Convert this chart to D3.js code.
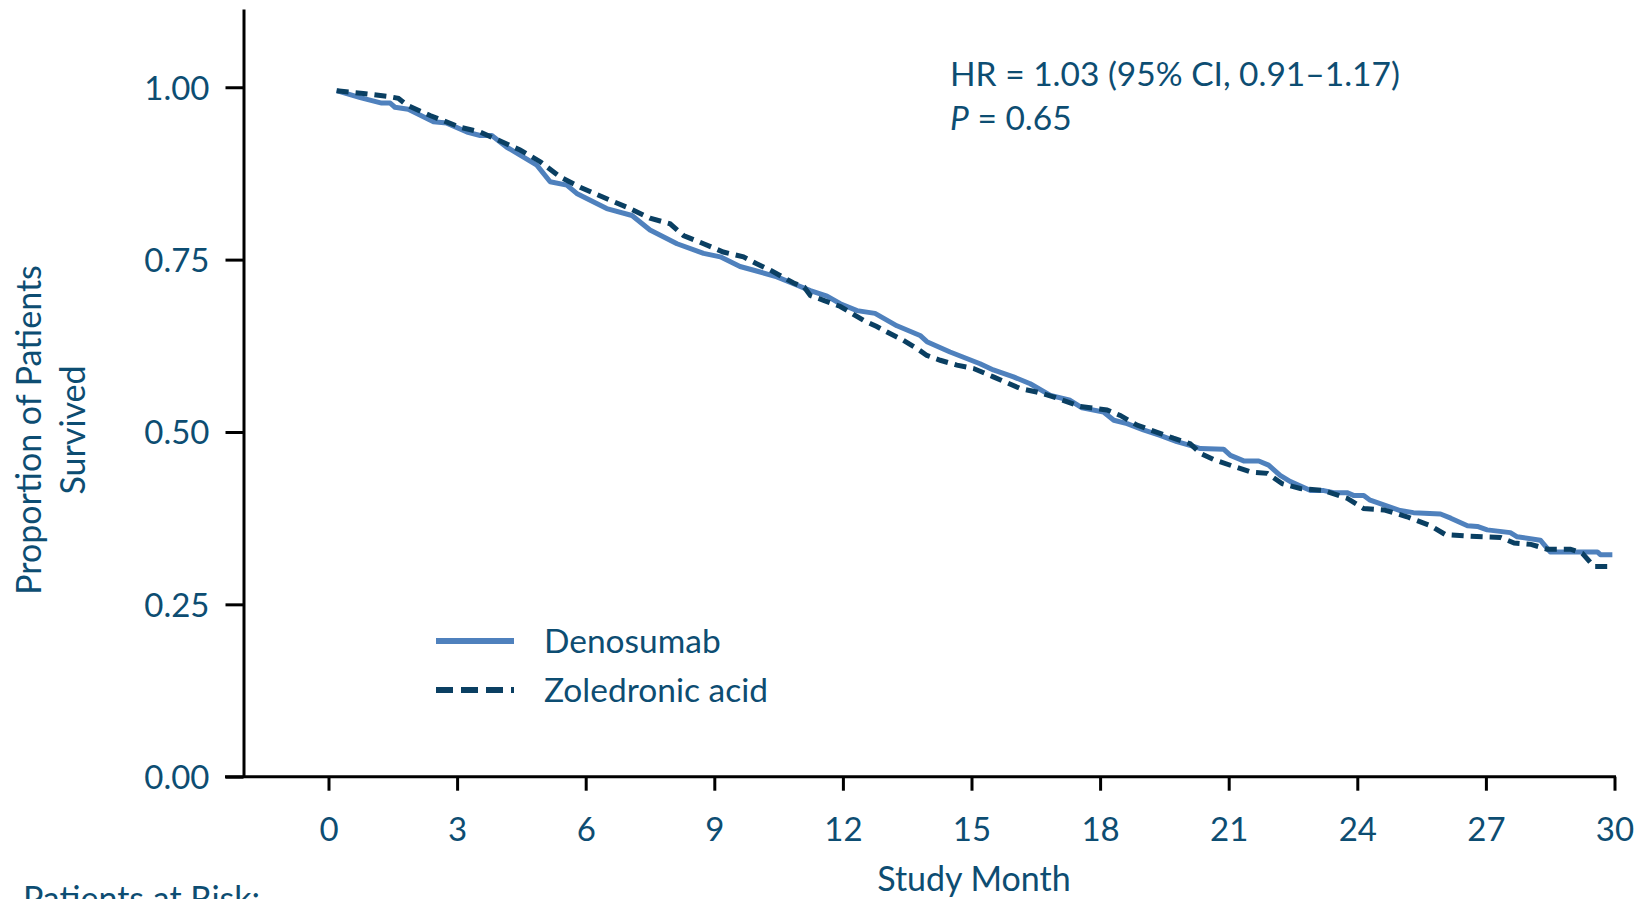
<!DOCTYPE html>
<html>
<head>
<meta charset="utf-8">
<script src="https://cdn.jsdelivr.net/npm/d3@7"></script>
<style>
  html, body { margin: 0; padding: 0; background: #fff; overflow: hidden; }
  svg { display: block; }
  text { font-family: Lato, "Open Sans", sans-serif; fill: #0d4d72; }
</style>
</head>
<body>
<svg id="chart" width="1646" height="899"></svg>
<script>
// Kaplan–Meier overall survival, [study month, proportion surviving]
const denosumab = [
  [0.19,0.995],[0.74,0.985],[1.24,0.977],[1.44,0.977],[1.55,0.971],[1.86,0.968],
  [2.45,0.950],[2.76,0.948],[3.23,0.935],[3.54,0.930],[3.81,0.930],[4.16,0.913],
  [4.86,0.887],[5.17,0.863],[5.56,0.858],[5.79,0.846],[6.49,0.824],[7.08,0.814],
  [7.50,0.793],[8.13,0.773],[8.75,0.759],[9.14,0.754],[9.60,0.740],[10.07,0.732],
  [10.46,0.725],[10.85,0.715],[11.24,0.705],[11.63,0.697],[11.94,0.686],[12.33,0.676],
  [12.75,0.672],[13.26,0.654],[13.80,0.640],[13.96,0.631],[14.50,0.616],[15.20,0.599],
  [15.51,0.590],[15.98,0.580],[16.37,0.570],[16.84,0.553],[17.30,0.546],[17.58,0.535],
  [18.08,0.529],[18.32,0.517],[18.63,0.512],[19.01,0.503],[19.40,0.495],[19.79,0.486],
  [20.18,0.479],[20.34,0.476],[20.88,0.475],[21.04,0.466],[21.35,0.458],[21.70,0.458],
  [21.93,0.452],[22.20,0.437],[22.44,0.428],[22.91,0.415],[23.22,0.415],[23.45,0.412],
  [23.76,0.412],[23.91,0.408],[24.15,0.408],[24.30,0.401],[25.00,0.386],[25.31,0.383],
  [25.94,0.381],[26.18,0.375],[26.57,0.364],[26.80,0.363],[27.03,0.358],[27.57,0.354],
  [27.73,0.348],[28.27,0.343],[28.50,0.326],[29.60,0.326],[29.67,0.322],[29.95,0.322]
];
const zoledronicAcid = [
  [0.19,0.995],[0.81,0.991],[1.36,0.987],[1.63,0.984],[1.83,0.974],[2.37,0.959],
  [3.07,0.942],[3.54,0.935],[4.47,0.909],[4.94,0.892],[5.40,0.870],[5.87,0.855],
  [6.65,0.834],[6.96,0.826],[7.50,0.810],[7.97,0.802],[8.28,0.785],[8.75,0.773],
  [9.21,0.761],[9.68,0.754],[9.99,0.744],[10.30,0.735],[10.85,0.716],[11.10,0.710],
  [11.24,0.698],[11.55,0.691],[11.94,0.682],[12.48,0.662],[12.79,0.653],[13.03,0.645],
  [13.41,0.633],[13.73,0.621],[13.96,0.611],[14.27,0.604],[14.66,0.597],[15.05,0.592],
  [15.51,0.580],[16.14,0.563],[16.52,0.558],[16.91,0.551],[17.54,0.537],[18.16,0.532],
  [18.47,0.524],[18.86,0.510],[19.71,0.491],[20.10,0.483],[20.34,0.469],[20.65,0.460],
  [21.12,0.450],[21.51,0.442],[21.90,0.440],[22.25,0.425],[22.67,0.418],[23.22,0.415],
  [23.76,0.404],[24.15,0.389],[24.62,0.387],[25.16,0.377],[25.71,0.364],[26.06,0.351],
  [26.57,0.349],[27.34,0.347],[27.66,0.339],[28.05,0.337],[28.43,0.330],[28.97,0.330],
  [29.25,0.324],[29.52,0.305],[29.87,0.305]
];
const monthTicks = [0, 3, 6, 9, 12, 15, 18, 21, 24, 27, 30];
const survivalTicks = [0, 0.25, 0.5, 0.75, 1.0];
const seriesNames = ["Denosumab", "Zoledronic acid"];
const statsLines = ["HR = 1.03 (95% CI, 0.91\u20131.17)", "= 0.65"];

const svg = d3.select("#chart");
const ink = "#0d4d72";

const x = d3.scaleLinear().domain([0, 30]).range([328.5, 1614.5]);
const y = d3.scaleLinear().domain([0, 1.1135]).range([776.7, 9]);

// y axis
const yAxis = svg.append("g")
  .attr("transform", "translate(243.5,0)")
  .call(d3.axisLeft(y).tickValues(survivalTicks).tickFormat(d3.format(".2f"))
        .tickSize(18).tickSizeOuter(0).tickPadding(16));
yAxis.select(".domain").attr("stroke", "#000").attr("stroke-width", 3);
yAxis.selectAll(".tick line").attr("stroke", "#000").attr("stroke-width", 3);
yAxis.selectAll(".tick text").attr("fill", ink).style("font-size", "33px").attr("dy", "0.36em");

// x axis
const xAxis = svg.append("g")
  .attr("transform", "translate(0,776.7)")
  .call(d3.axisBottom(x).tickValues(monthTicks).tickSize(14).tickSizeOuter(0).tickPadding(27));
xAxis.select(".domain").remove();
xAxis.append("line")
  .attr("x1", 225).attr("x2", x(30) + 1.5).attr("y1", 0).attr("y2", 0)
  .attr("stroke", "#000").attr("stroke-width", 3);
xAxis.selectAll(".tick line").attr("stroke", "#000").attr("stroke-width", 3);
xAxis.selectAll(".tick text").attr("fill", ink).style("font-size", "33px");

// axis titles
svg.append("text").attr("x", 974).attr("y", 891).attr("text-anchor", "middle")
  .style("font-size", "34px").text("Study Month");
const yTitle = svg.append("text").attr("transform", "translate(41,430) rotate(-90)")
  .attr("text-anchor", "middle").style("font-size", "34px");
yTitle.append("tspan").attr("x", 0).attr("y", 0).text("Proportion of Patients");
yTitle.append("tspan").attr("x", 0).attr("y", 44).text("Survived");

svg.append("text").attr("x", 23).attr("y", 911).style("font-size", "34px").text("Patients at Risk:");

// survival curves
const line = d3.line().x(d => x(d[0])).y(d => y(d[1])).curve(d3.curveLinear);
svg.append("path").datum(denosumab)
  .attr("fill", "none").attr("stroke", "#4f81bd").attr("stroke-width", 5)
  .attr("stroke-linejoin", "round").attr("d", line);
svg.append("path").datum(zoledronicAcid)
  .attr("fill", "none").attr("stroke", "#0a3f62").attr("stroke-width", 5)
  .attr("stroke-dasharray", "12,7").attr("d", line);

// legend
const legend = svg.append("g");
const legendStyles = [
  { color: "#4f81bd", dash: null, y: 641 },
  { color: "#0a3f62", dash: "17,8", y: 690 }
];
seriesNames.forEach((name, i) => {
  const s = legendStyles[i];
  legend.append("line").attr("x1", 436).attr("x2", 514).attr("y1", s.y).attr("y2", s.y)
    .attr("stroke", s.color).attr("stroke-width", 6).attr("stroke-dasharray", s.dash);
  legend.append("text").attr("x", 544).attr("y", s.y + 12).style("font-size", "33.5px").text(name);
});

// hazard ratio annotation
svg.append("text").attr("x", 950).attr("y", 86).style("font-size", "33.5px").text(statsLines[0]);
const pLine = svg.append("text").attr("x", 950).attr("y", 130).style("font-size", "33.5px");
pLine.append("tspan").style("font-style", "italic").text("P");
pLine.append("tspan").text(" " + statsLines[1]);
</script>
</body>
</html>
